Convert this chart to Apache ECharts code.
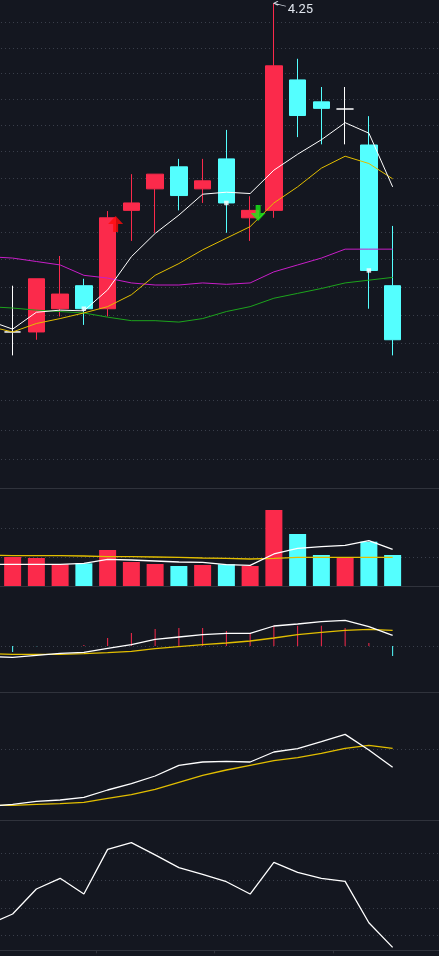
<!DOCTYPE html>
<html><head><meta charset="utf-8">
<script src="https://cdn.jsdelivr.net/npm/echarts@6/dist/echarts.min.js"></script>
<style>html,body{margin:0;padding:0;background:#141720;overflow:hidden;width:439px;height:956px;position:relative;}
#c{position:absolute;left:-23px;top:0;width:475px;height:956px;}</style>
</head><body><div id="c"></div>
<script>
// ---------- data (index 0 = bar before the visible window, last two = empty slots) ----------
const categories = ['2024-03-01','2024-03-04','2024-03-05','2024-03-06','2024-03-07','2024-03-08','2024-03-11','2024-03-12','2024-03-13','2024-03-14','2024-03-15','2024-03-18','2024-03-19','2024-03-20','2024-03-21','2024-03-22','2024-03-25','2024-03-26','2024-03-27','2024-03-28'];
// [open, close, low, high]
const candles = [null,
  [3.756,3.756,3.723,3.822],
  [3.756,3.832,3.745,3.832],
  [3.789,3.810,3.778,3.865],
  [3.822,3.789,3.766,3.832],
  [3.789,3.921,3.778,3.931],
  [3.932,3.943,3.887,3.986],
  [3.964,3.986,3.899,3.986],
  [3.997,3.954,3.932,4.009],
  [3.964,3.976,3.943,4.009],
  [4.009,3.943,3.899,4.053],
  [3.921,3.932,3.887,3.953],
  [3.932,4.152,3.921,4.251],
  [4.130,4.075,4.042,4.163],
  [4.096,4.086,4.031,4.119],
  [4.085,4.085,4.031,4.119],
  [4.030,3.844,3.789,4.074],
  [3.822,3.745,3.723,3.909],
  null, null];
const ma5  = [3.772,3.760,3.784,3.787,3.786,3.816,3.864,3.898,3.925,3.956,3.959,3.957,3.992,4.016,4.038,4.064,4.048,3.967,null,null];
const ma10 = [3.764,3.756,3.768,3.775,3.783,3.792,3.809,3.837,3.854,3.874,3.891,3.908,3.943,3.967,3.995,4.013,4.002,3.979,null,null];
const ma20 = [3.864,3.862,3.857,3.852,3.837,3.833,3.826,3.823,3.823,3.826,3.824,3.826,3.842,3.852,3.862,3.875,3.875,3.875,null,null];
const ma30 = [3.792,3.790,3.787,3.785,3.783,3.777,3.772,3.772,3.770,3.775,3.785,3.792,3.804,3.811,3.818,3.826,3.830,3.834,null,null];
const volume   = [null,50300,48600,37700,39400,62500,41700,38200,34700,36500,37700,34700,131900,90300,53800,49800,76900,53800,null,null];
const volMa5   = [37700,37700,37700,37700,39400,46300,45100,43400,41700,41100,37000,35900,55600,65400,68300,70600,78700,63700,null,null];
const volMa10  = [53500,52700,52700,52700,52100,50900,50900,50300,49800,48600,48000,46900,48000,49800,49800,49800,49800,49800,null,null];
const dif  = [-0.021,-0.0227,-0.0187,-0.0147,-0.0127,-0.0047,0.0027,0.0133,0.018,0.0227,0.0253,0.0253,0.040,0.044,0.0487,0.0513,0.0387,0.0213,null,null];
const dea  = [-0.0154,-0.0167,-0.0167,-0.0167,-0.0153,-0.0133,-0.0107,-0.0053,-0.0013,0.0027,0.006,0.010,0.016,0.0227,0.0273,0.0313,0.0333,0.0313,null,null];
const macd = [null,-0.012,-0.0006,0.0002,0.002,0.016,0.026,0.034,0.036,0.036,0.030,0.026,0.0406,0.0406,0.0406,0.036,0.006,-0.020,null,null];
const kLine = [9.88,11.24,13.36,14.30,16.17,21.34,25.80,31.20,38.71,41.05,41.52,41.05,48.10,50.45,55.37,60.54,49.51,37.30,null,null];
const dLine = [10.54,10.54,11.24,11.71,12.65,15.47,18.05,21.81,26.74,31.67,35.42,38.71,41.99,44.10,47.16,50.68,52.79,50.68,null,null];
const rsi = [28.05,35.6,53.9,61.7,50.2,82.9,87.8,78.8,69.5,64.6,59.2,50.2,73.4,66.1,61.7,59.5,29.2,11.2,null,null];
const priceGridLines = [4.22,4.18,4.14,4.10,4.06,4.02,3.98,3.94,3.90,3.86,3.82,3.78,3.74,3.70,3.66,3.62,3.58];
const volumeGridLines = [50000,100000];
const macdGridLines = [0];
const kdGridLines = [50];
const rsiGridLines = [20,40,60,80];
const squareMarks = [[4,3.789],[10,3.943],[16,3.844]];   // [category index, price]
const upArrows = [[5,3.912]];
const downArrows = [[11,3.928]];
const highMark = [12,4.251];
const bottomTicks = [5,10,15];

// ---------- chart ----------
const RED='#fb2a4b', CYAN='#54ffff', YEL='#e2be00', MAG='#c81ec8', GRN='#1ca41c', DOT='#3a3f4b', DIV='#30333c';
const chart = echarts.init(document.getElementById('c'), null, {renderer:'canvas'});
function gl(vals){
  return {silent:true, z:1, symbol:['none','none'], label:{show:false}, emphasis:{disabled:true},
    lineStyle:{color:DOT, type:[1,3], width:1}, data: vals.map(v=>({yAxis:v}))};
}
function ln(x,y,data,color,w){
  return {type:'line', xAxisIndex:x, yAxisIndex:y, data:data, showSymbol:false, symbol:'none', silent:true, z:3,
    lineStyle:{color:color, width:w||1}, itemStyle:{color:color}};
}
const grids=[
  {left:0,right:0,top:0,height:488.7},
  {left:0,right:0,top:488.7,height:97.3},
  {left:0,right:0,top:586,height:106.7},
  {left:0,right:0,top:692.7,height:127.6},
  {left:0,right:0,top:820.3,height:130}
];
const xAxes = grids.map((g,i)=>({type:'category', gridIndex:i, data:categories, boundaryGap:true,
  axisLine:{show:true,onZero:false,lineStyle:{color:DIV,width:1}},
  axisTick:{show:i===4, length:3, lineStyle:{color:DIV}, interval:(idx)=>bottomTicks.indexOf(idx)>=0},
  axisLabel:{show:false}, splitLine:{show:false}}));
const yAxes = [
  {type:'log', logBase:10, gridIndex:0, min:3.5407, max:4.2562, show:false},
  {type:'value', gridIndex:1, min:0, max:168900, show:false},
  {type:'value', gridIndex:2, min:-0.0934, max:0.12, show:false},
  {type:'value', gridIndex:3, min:0, max:89.86, show:false},
  {type:'value', gridIndex:4, min:9.03, max:104.15, show:false}
];
const empty = categories.map(()=>null);
const isUp = i => candles[i] && candles[i][1] >= candles[i][0];
const series = [
  {type:'line', xAxisIndex:0, yAxisIndex:0, data:empty, showSymbol:false, silent:true, markLine:gl(priceGridLines)},
  {type:'candlestick', xAxisIndex:0, yAxisIndex:0, barWidth:17, z:2,
    data: candles.map(c=>c?c:['-','-','-','-']),
    itemStyle:{color:RED,color0:CYAN,borderColor:RED,borderColor0:CYAN,borderColorDoji:'#ffffff',borderWidth:1},
    markPoint:{silent:true, animation:false,
      symbol:'path://M4,0 L0,2 L4,4 M0,2 L12,5', symbolSize:[12,5], symbolOffset:[6,0.5],
      itemStyle:{color:'none', borderColor:'#d6dce6', borderWidth:1},
      label:{show:true, position:'right', distance:2, offset:[-4,6], color:'#dfe4ec', fontSize:13, fontFamily:'Roboto',
        formatter:p=>Number(p.value).toFixed(2)},
      data:[{coord:[highMark[0],highMark[1]], value:highMark[1]}]}
  },
  ln(0,0,ma30,GRN), ln(0,0,ma20,MAG), ln(0,0,ma10,YEL), ln(0,0,ma5,'#ffffff'),
  {type:'scatter', xAxisIndex:0, yAxisIndex:0, z:4, silent:true, symbol:'rect', symbolSize:4.5,
    itemStyle:{color:'#ffffff'}, data: squareMarks.map(d=>[d[0],d[1]])},
  {type:'scatter', xAxisIndex:0, yAxisIndex:0, z:4, silent:true,
    symbol:'path://M7.5,0 L15,8 L10,8 L10,16 L5,16 L5,8 L0,8 Z', symbolSize:[15,16], symbolOffset:[8,0],
    itemStyle:{color:'#ff0a0a'}, data: upArrows.map(d=>[d[0],d[1]])},
  {type:'scatter', xAxisIndex:0, yAxisIndex:0, z:4, silent:true,
    symbol:'path://M5,0 L10,0 L10,8 L15,8 L7.5,16 L0,8 L5,8 Z', symbolSize:[15,16], symbolOffset:[8,0],
    itemStyle:{color:'#16f016'}, data: downArrows.map(d=>[d[0],d[1]])},
  // volume
  {type:'bar', xAxisIndex:1, yAxisIndex:1, barWidth:17, silent:true, z:2,
    data: volume.map((v,i)=> v==null ? '-' : {value:v, itemStyle:{color: isUp(i)?RED:CYAN}}),
    markLine:gl(volumeGridLines)},
  ln(1,1,volMa10,YEL,1.3), ln(1,1,volMa5,'#ffffff',1.3),
  // macd
  {type:'bar', xAxisIndex:2, yAxisIndex:2, barWidth:1, silent:true, z:2,
    data: macd.map(v=> v==null ? '-' : {value:v, itemStyle:{color: v>=0?RED:CYAN}}),
    markLine:gl(macdGridLines)},
  ln(2,2,dea,YEL,1.3), ln(2,2,dif,'#ffffff',1.3),
  // kd
  {type:'line', xAxisIndex:3, yAxisIndex:3, data:empty, showSymbol:false, silent:true, markLine:gl(kdGridLines)},
  ln(3,3,dLine,YEL,1.3), ln(3,3,kLine,'#ffffff',1.3),
  // rsi
  {type:'line', xAxisIndex:4, yAxisIndex:4, data:empty, showSymbol:false, silent:true, markLine:gl(rsiGridLines)},
  ln(4,4,rsi,'#ffffff',1.3)
];
chart.setOption({backgroundColor:'#141720', animation:false, grid:grids, xAxis:xAxes, yAxis:yAxes, series:series});
</script></body></html>
